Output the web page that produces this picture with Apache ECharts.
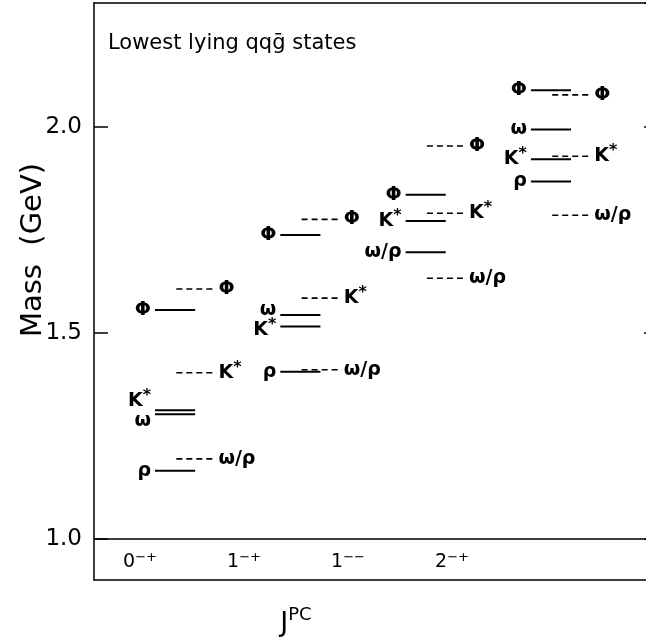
<!DOCTYPE html>
<html><head><meta charset="utf-8">
<script src="https://cdn.jsdelivr.net/npm/echarts@6/dist/echarts.min.js"></script>
<style>html,body{margin:0;padding:0;background:#fff}#c{width:646px;height:644px}</style>
</head><body><div id="c"></div>
<script>
// ---------- data ----------
const categories = ['0-+', '1-+', '1--', '2-+'];
const yTickValues = [1.0, 1.5, 2.0];

// solid levels (labelled on the left)
const solidColumn = [0, 0, 0, 0, 1, 1, 1, 1, 2, 2, 2, 3, 3, 3, 3];
const solidMass   = [1.165, 1.312, 1.302, 1.555, 1.405, 1.515, 1.543, 1.737, 1.695, 1.771, 1.835, 1.867, 1.921, 1.993, 2.088];
const solidLabel  = ['ρ', 'K*', 'ω', 'Φ', 'ρ', 'K*', 'ω', 'Φ', 'ω/ρ', 'K*', 'Φ', 'ρ', 'K*', 'ω', 'Φ'];

// dashed levels (labelled on the right)
const dashedColumn = [0, 0, 0, 1, 1, 1, 2, 2, 2, 3, 3, 3];
const dashedMass   = [1.194, 1.403, 1.606, 1.410, 1.584, 1.775, 1.632, 1.790, 1.953, 1.785, 1.928, 2.077];
const dashedLabel  = ['ω/ρ', 'K*', 'Φ', 'ω/ρ', 'K*', 'Φ', 'ω/ρ', 'K*', 'Φ', 'ω/ρ', 'K*', 'Φ'];

// ---------- layout ----------
const FONT = 'DejaVu Sans';
const INK = '#000';
const LEN = 0.32, DASH_OFF = 0.17;
const Y0 = 580, TOP = 3, SCALE = (Y0 - TOP) / 1.4; // px per GeV
const Y1 = Y0 - 0.1 * SCALE; // pixel of 1.0 GeV
const GRID_W = 552, COL_PX = 125.3;

const RICH = {
  k: { fontFamily: FONT, fontSize: 19, fontWeight: 'bold', color: INK },
  s: { fontFamily: FONT, fontSize: 16, fontWeight: 'bold', color: INK, padding: [0, 0, 10, 0] }
};
function fmtLabel(t) {
  if (t === 'K*') return '{k|K}{s|*}';
  return '{k|' + t + '}';
}

function levelSeries(cols, masses, labels, dashed) {
  return {
    type: 'custom', xAxisIndex: 0, yAxisIndex: 0, clip: false, silent: true,
    data: cols.map((c, i) => [c, masses[i], i]),
    encode: { x: 0, y: 1 },
    renderItem(params, api) {
      const c = api.value(0), m = api.value(1), i = api.value(2);
      const x0 = c + (dashed ? DASH_OFF : 0);
      const p0 = api.coord([x0, m]), p1 = api.coord([x0 + LEN, m]);
      let ty = p0[1];
      if (!dashed) {
        cols.forEach((cc, j) => {
          if (j !== i && cc === c && Math.abs(masses[j] - m) < 0.035) {
            const mid = (p0[1] + api.coord([x0, masses[j]])[1]) / 2;
            ty = m > masses[j] ? mid - 11 : mid + 9;
          }
        });
      }
      return {
        type: 'group',
        children: [
          { type: 'line', shape: { x1: p0[0], y1: p0[1], x2: p1[0], y2: p1[1] },
            style: { stroke: INK, lineWidth: dashed ? 1.6 : 2, lineDash: dashed ? [6, 4] : null } },
          { type: 'text',
            style: { text: fmtLabel(labels[i]), rich: RICH,
              x: dashed ? p1[0] + 2 : p0[0] - 4, y: ty,
              align: dashed ? 'left' : 'right', verticalAlign: 'middle',
              fontFamily: FONT, fontSize: 19, fontWeight: 'bold', fill: INK } }
        ]
      };
    }
  };
}

const frameLine = { show: true, onZero: false, lineStyle: { color: INK, width: 1.5 } };

const chart = echarts.init(document.getElementById('c'), null, { renderer: 'canvas' });
const option = {
  animation: false,
  backgroundColor: '#fff',
  grid: [
    // main plot frame (open on the right, as in the figure)
    { left: 94, top: TOP, width: GRID_W, bottom: 644 - Y0, containLabel: false },
    // tick-label grid: from 1.0 GeV upwards
    { left: 94, top: TOP, width: GRID_W, bottom: 644 - Y1, containLabel: false },
    // category labels
    { left: 88, width: 416, top: TOP, bottom: 644 - Y1, containLabel: false }
  ],
  xAxis: [
    { gridIndex: 0, type: 'value', min: -0.487, max: -0.487 + GRID_W / COL_PX, position: 'bottom',
      axisLine: frameLine, axisTick: { show: false }, axisLabel: { show: false }, splitLine: { show: false } },
    { gridIndex: 0, type: 'value', min: 0, max: 1, position: 'top',
      axisLine: frameLine, axisTick: { show: false }, axisLabel: { show: false }, splitLine: { show: false } },
    { gridIndex: 1, type: 'value', min: 0, max: 1, axisLine: frameLine,
      axisTick: { show: false }, axisLabel: { show: false }, splitLine: { show: false } },
    { gridIndex: 2, type: 'category', data: categories, boundaryGap: true,
      axisLine: { show: false }, axisTick: { show: false },
      axisLabel: { margin: 12, formatter: v => '{m|' + v[0] + '}{s|' + v.slice(1).replace(/-/g, '−') + '}',
        rich: { m: { fontFamily: FONT, fontSize: 19, color: INK },
                s: { fontFamily: FONT, fontSize: 13, color: INK, padding: [0, 0, 10, 0] } } } }
  ],
  yAxis: [
    { gridIndex: 0, type: 'value', min: 0.9, max: 2.3, axisLine: frameLine,
      axisTick: { show: false }, axisLabel: { show: false }, splitLine: { show: false } },
    { gridIndex: 1, type: 'value', min: 1.0, max: 2.3, interval: 0.5,
      axisLine: { show: false },
      axisTick: { show: true, inside: true, length: 14, lineStyle: { color: INK, width: 1.5 } },
      axisLabel: { show: true, margin: 12, showMaxLabel: false, fontFamily: FONT, fontSize: 23, color: INK,
        formatter: v => yTickValues.some(t => Math.abs(t - v) < 1e-6) ? v.toFixed(1) : '' },
      splitLine: { show: false } },
    { gridIndex: 1, type: 'value', position: 'right', min: 1.0, max: 2.3, interval: 0.5,
      axisLine: { show: false }, axisTick: { show: true, inside: true, length: 2, lineStyle: { color: INK, width: 1.5 } },
      axisLabel: { show: false }, splitLine: { show: false } },
    { gridIndex: 2, type: 'value', show: false }
  ],
  graphic: [
    { type: 'text', left: 108, top: 33, style: { text: 'Lowest lying qqḡ states', fontFamily: FONT, fontSize: 21, fill: INK } },
    { type: 'text', x: 33, y: 250, rotation: Math.PI / 2,
      style: { text: 'Mass  (GeV)', fontFamily: FONT, fontSize: 29, fill: INK, align: 'center', verticalAlign: 'middle' } },
    { type: 'text', x: 296, y: 624,
      style: { text: '{j|J}{p|PC}', align: 'center', verticalAlign: 'middle',
        rich: { j: { fontFamily: FONT, fontSize: 27, color: INK },
                p: { fontFamily: FONT, fontSize: 18, color: INK, padding: [0, 0, 18, 0] } } } }
  ],
  series: [
    levelSeries(solidColumn, solidMass, solidLabel, false),
    levelSeries(dashedColumn, dashedMass, dashedLabel, true)
  ]
};
chart.setOption(option);
</script>
</body></html>
